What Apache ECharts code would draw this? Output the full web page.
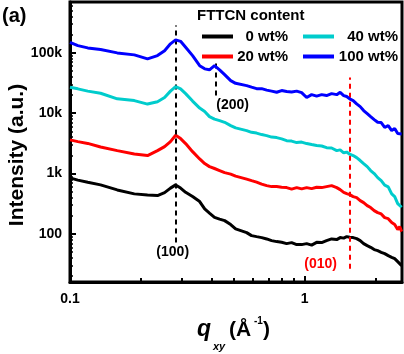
<!DOCTYPE html>
<html>
<head>
<meta charset="utf-8">
<script src="https://cdn.jsdelivr.net/npm/echarts@6/dist/echarts.min.js"></script>
<style>
  html, body { margin: 0; padding: 0; background: #fff; }
  #main { width: 404px; height: 354px; }
</style>
</head>
<body>
<div id="main"></div>
<script>
// q_xy grid (1/A) shared by all curves
var qValues = [0.1, 0.108, 0.119, 0.135, 0.159, 0.188, 0.214, 0.236, 0.253, 0.268,
  0.282, 0.296, 0.311, 0.333, 0.357, 0.375, 0.393, 0.413, 0.434, 0.456,
  0.484, 0.508, 0.566, 0.594, 0.624, 0.656, 0.689, 0.723, 0.76, 0.798,
  0.838, 0.88, 0.925, 0.971, 1.02, 1.071, 1.125, 1.182, 1.24, 1.303,
  1.37, 1.417, 1.467, 1.511, 1.556, 1.61, 1.666, 1.725, 1.784, 1.848,
  1.911, 1.979, 2.048, 2.12, 2.194, 2.271, 2.35, 2.42, 2.493, 2.542, 2.59];

var wt0 = [846, 778, 715, 648, 535, 460, 442, 431, 483, 573,
  648, 573, 488, 415, 343, 259, 221, 188, 176, 166,
  143, 121, 105, 93.7, 90.2, 86.9, 82.6, 77.5, 74.6, 72.6,
  69.1, 71.8, 66.5, 66.5, 69.1, 65.3, 72.6, 71.8, 77.5, 82.6,
  80.5, 86.9, 85.2, 90.2, 87.8, 86.9, 83.6, 77.5, 69.1, 64.0,
  60.0, 55.0, 52.9, 49.6, 47.2, 43.7, 41.0, 39.0, 34.8, 33.5, 29.9];

var wt20 = [3600, 3370, 3150, 2740, 2390, 2100, 1980, 2390, 2790, 3370,
  4290, 3780, 3130, 2300, 1740, 1460, 1300, 1210, 1120, 1035,
  978, 906, 808, 763, 720, 667, 630, 607, 607, 591,
  584, 552, 584, 556, 584, 562, 591, 584, 607, 630,
  584, 541, 488, 465, 447, 415, 399, 356, 330, 294,
  273, 243, 225, 214, 186, 179, 154, 143, 118, 132, 109];

var wt40 = [26700, 25200, 23100, 21300, 17200, 16100, 14100, 15400, 18100, 23100,
  27500, 25200, 21000, 15800, 12100, 10600, 8750, 7960, 7510, 7040,
  6210, 5690, 5130, 4810, 4670, 4410, 4240, 4010, 3930, 3740,
  3500, 3440, 3250, 3310, 3130, 3010, 2900, 2850, 2680, 2640,
  2390, 2460, 2200, 2260, 2090, 1980, 1830, 1640, 1460, 1300,
  1120, 996, 855, 763, 640, 600, 460, 415, 318, 343, 276];

var wt100 = [148600, 131000, 120000, 112500, 99200, 92000, 79000, 89500, 108000, 140000,
  163000, 154000, 123000, 89500, 61000, 54000, 52000, 61000, 52000, 43400,
  34500, 31100, 28500, 26900, 25400, 25400, 24000, 23100, 22100, 23600,
  22700, 22300, 23100, 21800, 18100, 20200, 19100, 20200, 19500, 21000,
  20200, 22100, 19500, 18800, 17200, 16100, 14200, 12800, 11000, 9810,
  8750, 7810, 7040, 6960, 5820, 6210, 5130, 5540, 4580, 4940, 4520];

var seriesNames = ['0 wt%', '20 wt%', '40 wt%', '100 wt%'];
var seriesColors = ['#000000', '#ff0000', '#00cccc', '#0000ff'];

// peak markers: q position, dashed line span, label and label anchor
var peakQ = [0.282, 0.416, 1.556];
var peakFrom = [71.8, 19500, 26.6];
var peakTo = [281000, 68600, 38700];
var peakLabels = ['(100)', '(200)', '(010)'];
var peakLabelQ = [0.274, 0.493, 1.17];
var peakLabelI = [49, 13300, 32.2];

var xMajor = [0.1, 1];
var xMinor = [0.2, 0.3, 0.4, 0.5, 0.6, 0.7, 0.8, 0.9, 2];
var yMajor = [100, 1000, 10000, 100000];
var yMinor = [];
[10, 100, 1000, 10000, 100000].forEach(function (d) {
  for (var k = 2; k <= 9; k++) yMinor.push(d * k);
});

function pairs(arr) {
  return qValues.map(function (q, i) { return [q, arr[i]]; });
}

function yFmt(v) {
  if (v >= 1000) return Math.round(v / 1000) + 'k';
  return String(Math.round(v));
}

var FONT = 'Liberation Sans, Arial, sans-serif';

var allData = [wt0, wt20, wt40, wt100];
var series = allData.map(function (arr, i) {
  return {
    name: seriesNames[i],
    type: 'line',
    data: pairs(arr),
    symbol: 'none',
    showSymbol: false,
    lineStyle: { color: seriesColors[i], width: 3 },
    itemStyle: { color: seriesColors[i] },
    z: 3 + i
  };
});

function markLine(idx, color) {
  return {
    symbol: 'none',
    silent: true,
    label: { show: false },
    lineStyle: { color: color, type: [5, 4], width: 2 },
    data: idx.map(function (k) {
      return [{ coord: [peakQ[k], peakFrom[k]] }, { coord: [peakQ[k], peakTo[k]] }];
    })
  };
}
function markPoint(idx, color) {
  return {
    symbol: 'circle',
    symbolSize: 1,
    silent: true,
    itemStyle: { color: 'rgba(0,0,0,0)' },
    label: {
      show: true, position: 'inside', color: color,
      fontFamily: FONT, fontWeight: 'bold', fontSize: 14,
      formatter: function (p) { return p.name; }
    },
    data: idx.map(function (k) {
      return { name: peakLabels[k], coord: [peakLabelQ[k], peakLabelI[k]] };
    })
  };
}
series[0].markLine = markLine([0, 1], '#000');
series[0].markPoint = markPoint([0, 1], '#000');
series[1].markLine = markLine([2], '#ff0000');
series[1].markPoint = markPoint([2], '#ff0000');

var legendTok = { color: '#000', fontFamily: FONT, fontWeight: 'bold', fontSize: 15, align: 'right' };
function legend(names, top) {
  return {
    data: names, left: 197, top: top, orient: 'horizontal',
    icon: 'rect', itemWidth: 31, itemHeight: 4, itemGap: 15,
    selectedMode: false,
    formatter: function (name) {
      return (name === names[0] ? '{a|' : '{b|') + name + '}';
    },
    textStyle: {
      color: '#000', fontFamily: FONT, fontWeight: 'bold', fontSize: 15,
      rich: {
        a: Object.assign({ width: 50 }, legendTok),
        b: Object.assign({ width: 59 }, legendTok)
      }
    }
  };
}

var option = {
  animation: false,
  backgroundColor: '#fff',
  grid: { left: 70, right: 2, top: 2, bottom: 72, show: true, borderColor: '#000', borderWidth: 3, backgroundColor: 'transparent' },
  legend: [legend(['0 wt%', '40 wt%'], 24), legend(['20 wt%', '100 wt%'], 44)],
  xAxis: [{
    type: 'log', min: 0.1, max: 2.6, logBase: 10,
    axisLine: { show: true, lineStyle: { color: '#000', width: 3 } },
    axisTick: { show: true, inside: true, length: 6, customValues: xMajor, lineStyle: { color: '#000', width: 2 } },
    axisLabel: {
      customValues: xMajor, margin: 10, color: '#000', fontFamily: FONT, fontWeight: 'bold', fontSize: 14,
      formatter: function (v) { return String(v); }
    },
    splitLine: { show: false }
  }, {
    type: 'log', min: 0.1, max: 2.6, logBase: 10, position: 'bottom',
    axisLine: { show: false },
    axisTick: { show: true, inside: true, length: 4, customValues: xMinor, lineStyle: { color: '#000', width: 2 } },
    axisLabel: { show: false },
    splitLine: { show: false }
  }],
  yAxis: [{
    type: 'log', min: 16, max: 690000, logBase: 10,
    axisLine: { show: true, lineStyle: { color: '#000', width: 3 } },
    axisTick: { show: true, inside: true, length: 6, customValues: yMajor, lineStyle: { color: '#000', width: 2 } },
    axisLabel: {
      customValues: yMajor, margin: 8, color: '#000', fontFamily: FONT, fontWeight: 'bold', fontSize: 14,
      formatter: yFmt
    },
    splitLine: { show: false }
  }, {
    type: 'log', min: 16, max: 690000, logBase: 10, position: 'left',
    axisLine: { show: false },
    axisTick: { show: true, inside: true, length: 3, customValues: yMinor, lineStyle: { color: '#000', width: 1.5 } },
    axisLabel: { show: false },
    splitLine: { show: false }
  }],
  graphic: [
    { type: 'text', left: 2, top: 6, style: { text: '(a)', fill: '#000', font: 'bold 20px ' + FONT } },
    { type: 'text', left: 197, top: 8, style: { text: 'FTTCN content', fill: '#000', font: 'bold 15px ' + FONT } },
    { type: 'text', x: 17, y: 155, rotation: Math.PI / 2,
      style: { text: 'Intensity (a.u.)', fill: '#000', font: 'bold 21px ' + FONT, align: 'center', verticalAlign: 'middle' } },
    { type: 'text', x: 197, y: 330, style: { text: 'q', fill: '#000', font: 'italic bold 23px ' + FONT, verticalAlign: 'middle' } },
    { type: 'text', x: 213, y: 347, style: { text: 'xy', fill: '#000', font: 'italic bold 11px ' + FONT, verticalAlign: 'middle' } },
    { type: 'text', x: 229, y: 330, style: { text: '(Å', fill: '#000', font: 'bold 21px ' + FONT, verticalAlign: 'middle' } },
    { type: 'text', x: 254, y: 321, style: { text: '-1', fill: '#000', font: 'bold 10px ' + FONT, verticalAlign: 'middle' } },
    { type: 'text', x: 263, y: 330, style: { text: ')', fill: '#000', font: 'bold 21px ' + FONT, verticalAlign: 'middle' } }
  ],
  series: series
};

var chart = echarts.init(document.getElementById('main'), null, { renderer: 'canvas' });
chart.setOption(option);
</script>
</body>
</html>
